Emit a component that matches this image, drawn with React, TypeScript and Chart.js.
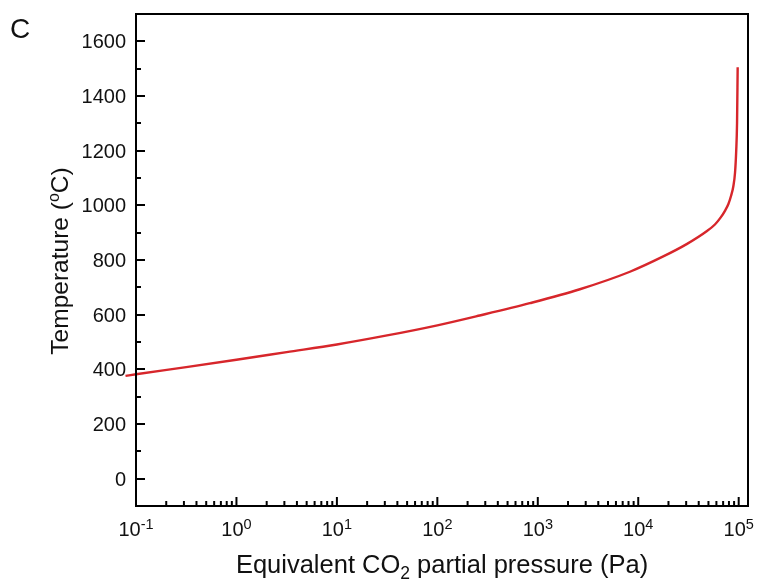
import React, { useEffect, useRef } from "react";
import { Chart, registerables } from "chart.js";

Chart.register(...registerables);

// Equivalent CO2 partial pressure (Pa) and temperature (°C)
const pressures = [
  0.0786, 0.1, 0.316, 1, 3.16, 10, 31.6, 100, 264, 832, 2624, 8260, 17740,
  30340, 47970, 58000, 66000, 73000, 79000, 84000, 88500, 92000, 94500, 96300,
  97700,
];
const temperatures = [
  376, 382, 408, 435, 463, 491, 524, 561, 597, 642, 693, 757, 813, 858, 905,
  930, 955, 980, 1005, 1035, 1070, 1120, 1200, 1300, 1505,
];

const yMajorTicks = [0, 200, 400, 600, 800, 1000, 1200, 1400, 1600];
const yMinorTicks = [100, 300, 500, 700, 900, 1100, 1300, 1500];
const xDecadeExponents = [-1, 0, 1, 2, 3, 4, 5];

const X_MIN = 0.1;
const X_MAX = 123800;
const Y_MIN = -100;
const Y_MAX = 1700;

const FONT = '"Liberation Sans", Arial, Helvetica, sans-serif';
const TEXT = "#111";

const axesPlugin = {
  id: "customAxes",
  afterDraw(chart: any) {
    const { ctx, chartArea } = chart;
    const { left, right, top, bottom } = chartArea;
    const xs = chart.scales.x;
    const ys = chart.scales.y;
    ctx.save();
    ctx.strokeStyle = "#000";
    ctx.lineWidth = 2;
    ctx.strokeRect(left, top, right - left, bottom - top);

    const line = (x1: number, y1: number, x2: number, y2: number) => {
      ctx.beginPath();
      ctx.moveTo(x1, y1);
      ctx.lineTo(x2, y2);
      ctx.stroke();
    };

    // Y ticks
    ctx.fillStyle = TEXT;
    ctx.font = `20px ${FONT}`;
    ctx.textAlign = "right";
    ctx.textBaseline = "middle";
    for (const v of yMajorTicks) {
      const py = Math.round(ys.getPixelForValue(v));
      line(left, py, left + 9, py);
      ctx.fillText(String(v), left - 10, py + 1);
    }
    for (const v of yMinorTicks) {
      const py = Math.round(ys.getPixelForValue(v));
      line(left, py, left + 5, py);
    }

    // X ticks
    for (const e of xDecadeExponents) {
      const base = Math.pow(10, e);
      const px = xs.getPixelForValue(base);
      line(px, bottom, px, bottom - 9);
      if (e < 5) {
        for (let k = 2; k <= 9; k++) {
          const mp = xs.getPixelForValue(k * base);
          if (mp <= right) line(mp, bottom, mp, bottom - 5);
        }
      }
      // label 10^e
      const bigFont = `20px ${FONT}`;
      const supFont = `14.5px ${FONT}`;
      ctx.font = bigFont;
      const w1 = ctx.measureText("10").width;
      ctx.font = supFont;
      const sup = String(e);
      const w2 = ctx.measureText(sup).width;
      const start = px - (w1 + w2) / 2;
      ctx.textAlign = "left";
      ctx.textBaseline = "alphabetic";
      ctx.font = bigFont;
      ctx.fillText("10", start, bottom + 30);
      ctx.font = supFont;
      ctx.fillText(sup, start + w1, bottom + 23);
    }

    // X title
    {
      const f = `25.5px ${FONT}`;
      const fs = `17.5px ${FONT}`;
      const a = "Equivalent CO";
      const b = "2";
      const c = " partial pressure (Pa)";
      ctx.font = f;
      const wa = ctx.measureText(a).width;
      const wc = ctx.measureText(c).width;
      ctx.font = fs;
      const wb = ctx.measureText(b).width;
      const total = wa + wb + wc;
      const cx = (left + right) / 2;
      const sx = cx - total / 2;
      const by = 573;
      ctx.textAlign = "left";
      ctx.textBaseline = "alphabetic";
      ctx.font = f;
      ctx.fillText(a, sx, by);
      ctx.font = fs;
      ctx.fillText(b, sx + wa, by + 6);
      ctx.font = f;
      ctx.fillText(c, sx + wa + wb, by);
    }

    // Y title (rotated)
    {
      const f = `24.5px ${FONT}`;
      const fs = `16px ${FONT}`;
      const a = "Temperature (";
      const b = "o";
      const c = "C)";
      ctx.font = f;
      const wa = ctx.measureText(a).width;
      const wc = ctx.measureText(c).width;
      ctx.font = fs;
      const wb = ctx.measureText(b).width;
      const total = wa + wb + wc;
      const cy = (top + bottom) / 2 + 1;
      ctx.translate(68, cy);
      ctx.rotate(-Math.PI / 2);
      const sx = -total / 2;
      ctx.textAlign = "left";
      ctx.textBaseline = "alphabetic";
      ctx.font = f;
      ctx.fillText(a, sx, 0);
      ctx.font = fs;
      ctx.fillText(b, sx + wa, -9);
      ctx.font = f;
      ctx.fillText(c, sx + wa + wb, 0);
      ctx.setTransform(1, 0, 0, 1, 0, 0);
    }

    // Panel label
    ctx.font = `28px ${FONT}`;
    ctx.textAlign = "left";
    ctx.textBaseline = "alphabetic";
    ctx.fillText("C", 10, 38);

    ctx.restore();
  },
};

export default function App() {
  const canvasRef = useRef<HTMLCanvasElement | null>(null);

  useEffect(() => {
    if (!canvasRef.current) return;
    const chart = new Chart(canvasRef.current, {
      type: "line",
      data: {
        datasets: [
          {
            data: pressures.map((p, i) => ({ x: p, y: temperatures[i] })),
            borderColor: "#d7262b",
            borderWidth: 2.4,
            pointRadius: 0,
            fill: false,
            cubicInterpolationMode: "monotone",
            clip: false as any,
          },
        ],
      },
      options: {
        animation: false,
        responsive: false,
        maintainAspectRatio: false,
        layout: { padding: { left: 136, right: 9, top: 14, bottom: 77 } },
        plugins: { legend: { display: false }, tooltip: { enabled: false } },
        scales: {
          x: { type: "logarithmic", min: X_MIN, max: X_MAX, display: false },
          y: { type: "linear", min: Y_MIN, max: Y_MAX, display: false },
        },
      },
      plugins: [axesPlugin],
    });
    return () => chart.destroy();
  }, []);

  return (
    <div style={{ position: "fixed", left: 0, top: 0, width: 757, height: 583, background: "#fff" }}>
      <canvas ref={canvasRef} width={757} height={583} style={{ width: 757, height: 583 }} />
    </div>
  );
}
